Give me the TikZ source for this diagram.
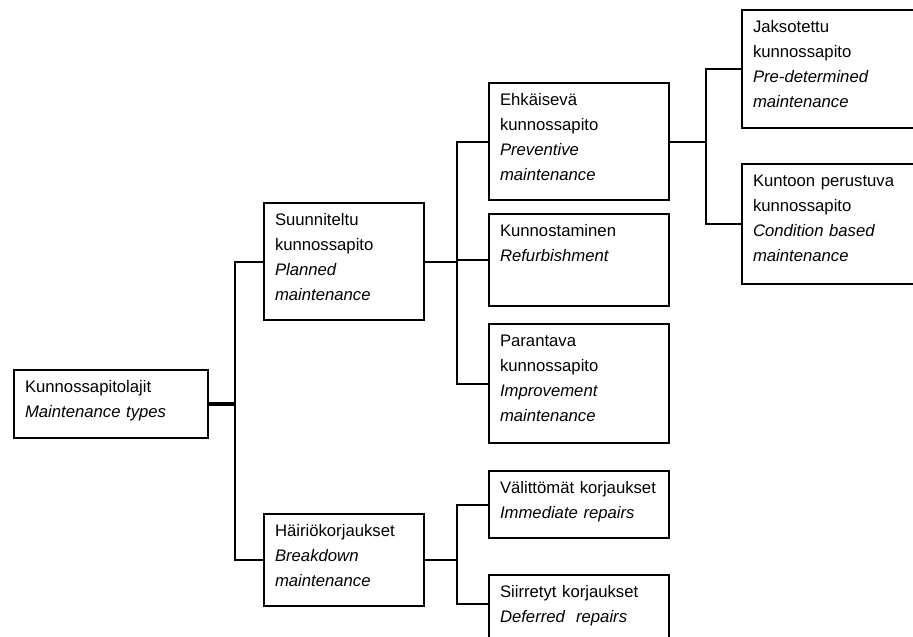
\documentclass[tikz,border=0pt]{standalone}
\usepackage{fontspec}
\setmainfont{Liberation Sans}
\usepackage{tikz}
\usetikzlibrary{positioning,calc}

\begin{document}
\begin{tikzpicture}[x=1pt,y=-1pt,
    box/.style n args={3}{draw,line width=2pt,anchor=north west,align=left,
      inner xsep=11pt,inner ysep=0pt,text width=#1-22pt,text height=22pt,
      text depth=#2-22pt,font=\fontsize{16.7}{25}\selectfont},
    link/.style={line width=2pt}]
  \useasboundingbox (0,0) rectangle (913,637);
  \clip (0,0) rectangle (913,637);

  \node[box={194}{68}{}] (root) at (13,369) {Kunnossapitolajit\\\textit{Maintenance types}};

  \node[box={160}{117}{}] (planned) at (263,202) {Suunniteltu\\kunnossapito\\\textit{Planned}\\\textit{maintenance}};
  \node[box={160}{92}{}] (breakdown) at (263,513) {Häiriökorjaukset\\\textit{Breakdown}\\\textit{maintenance}};

  \node[box={180}{117}{}] (preventive) at (488,82) {Ehkäisevä\\kunnossapito\\\textit{Preventive}\\\textit{maintenance}};
  \node[box={180}{92}{}] (refurb) at (488,213) {Kunnostaminen\\\textit{Refurbishment}};
  \node[box={180}{119}{}] (improve) at (488,323) {Parantava\\kunnossapito\\\textit{Improvement}\\\textit{maintenance}};
  \node[box={180}{67}{}] (immediate) at (488,470) {Välittömät korjaukset\\\textit{Immediate repairs}};
  \node[box={180}{80}{}] (deferred) at (488,574) {Siirretyt korjaukset\\\textit{Deferred\ \ repairs}};

  \node[box={190}{118}{}] (predet) at (741,9) {Jaksotettu\\kunnossapito\\\textit{Pre-determined}\\\textit{maintenance}};
  \node[box={190}{120}{}] (condition) at (741,163) {Kuntoon perustuva\\kunnossapito\\\textit{Condition based}\\\textit{maintenance}};

  % forks
  \coordinate (fork1) at ([xshift=26pt]root.east);
  \coordinate (fork2) at ([xshift=32pt]planned.east);
  \coordinate (fork3) at ([xshift=32pt]breakdown.east);
  \coordinate (fork4) at ([xshift=36pt]preventive.east);

  \draw[line width=4pt] (root.east) -- (fork1);
  \draw[link] (planned.west) -| (fork1) |- (breakdown.west);

  \draw[link] (planned.east) -- (fork2);
  \draw[link] (preventive.west) -| (fork2) |- (improve.west);
  \draw[link] (fork2 |- refurb.west) -- (refurb.west);

  \draw[link] (breakdown.east) -- (fork3);
  \draw[link] (immediate.west) -| (fork3) |- ([yshift=-30pt]deferred.north west);

  \draw[link] (preventive.east) -- (fork4);
  \draw[link] (predet.west) -| (fork4) |- (condition.west);
\end{tikzpicture}
\end{document}
